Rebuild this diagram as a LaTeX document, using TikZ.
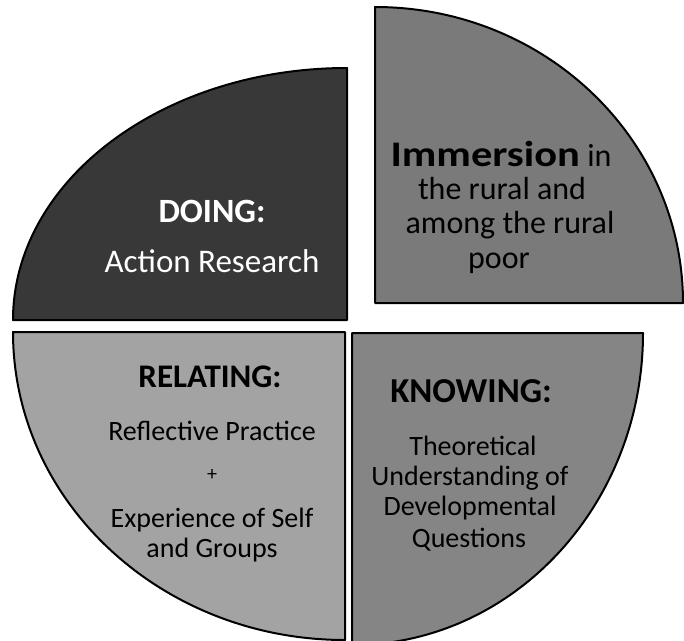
\documentclass[tikz,border=0pt]{standalone}
\usepackage{fontspec}
\usepackage{graphicx}
\setmainfont{Carlito}
\begin{document}
\begin{tikzpicture}[x=1pt,y=-1pt,
  quad/.style={draw=black,line width=2pt,line join=round},
  lbl/.style={inner sep=0pt,anchor=base,font=\fontsize{28}{30}\selectfont},
  trlbl/.style={inner sep=0pt,anchor=base,font=\fontsize{32}{34}\selectfont},
  head/.style={inner sep=0pt,anchor=base,font=\fontsize{33}{36}\selectfont\bfseries}]
\useasboundingbox (0,0) rectangle (684,640);
\clip (0,0) rectangle (684,640);
\fill[white] (0,0) rectangle (684,640);
% quadrants
\path[quad,fill=black!78] (347,320) -- (13,320) arc[start angle=180,end angle=270,x radius=334,y radius=252] -- cycle;
\path[quad,fill=black!52] (375,303) -- (375,7) arc[start angle=270,end angle=360,x radius=308,y radius=296] -- cycle;
\path[quad,fill=black!36] (345,332) -- (13,332) arc[start angle=180,end angle=90,x radius=332,y radius=308] -- cycle;
\path[quad,fill=black!48] (352,333) -- (643,333) arc[start angle=0,end angle=90,x radius=291,y radius=312] -- cycle;
% DOING
\node[head,white,font=\fontsize{34}{36}\selectfont\bfseries] (doing) at (212,222) {DOING:};
\node[lbl,white,font=\fontsize{33}{36}\selectfont] (action) at (212,272) {Action Research};
% Immersion
\node[trlbl] (imm) at (501,166) {{\fontsize{36}{38}\selectfont\bfseries\scalebox{1.18}[1]{Immersion}} in};
\node[trlbl] (imm2) at (502,199) {the rural and};
\node[trlbl] (imm3) at (510,233) {among the rural};
\node[trlbl] (imm4) at (499,268) {poor};
% RELATING
\node[head] (relating) at (210,387) {RELATING:};
\node[lbl] (refl) at (212,440) {Reflective Practice};
\node[inner sep=0pt,font=\fontsize{20}{22}\selectfont] (plus) at (212,475) {+};
\node[lbl] (exp) at (212,527) {Experience of Self};
\node[lbl] (grp) at (212,557) {and Groups};
% KNOWING
\node[head,font=\fontsize{35}{37}\selectfont\bfseries] (knowing) at (471,402) {KNOWING:};
\node[lbl] (theo) at (473,455) {Theoretical};
\node[lbl] (under) at (470,485) {Understanding of};
\node[lbl] (dev) at (470,515) {Developmental};
\node[lbl] (ques) at (469,547) {Questions};
\end{tikzpicture}
\end{document}
